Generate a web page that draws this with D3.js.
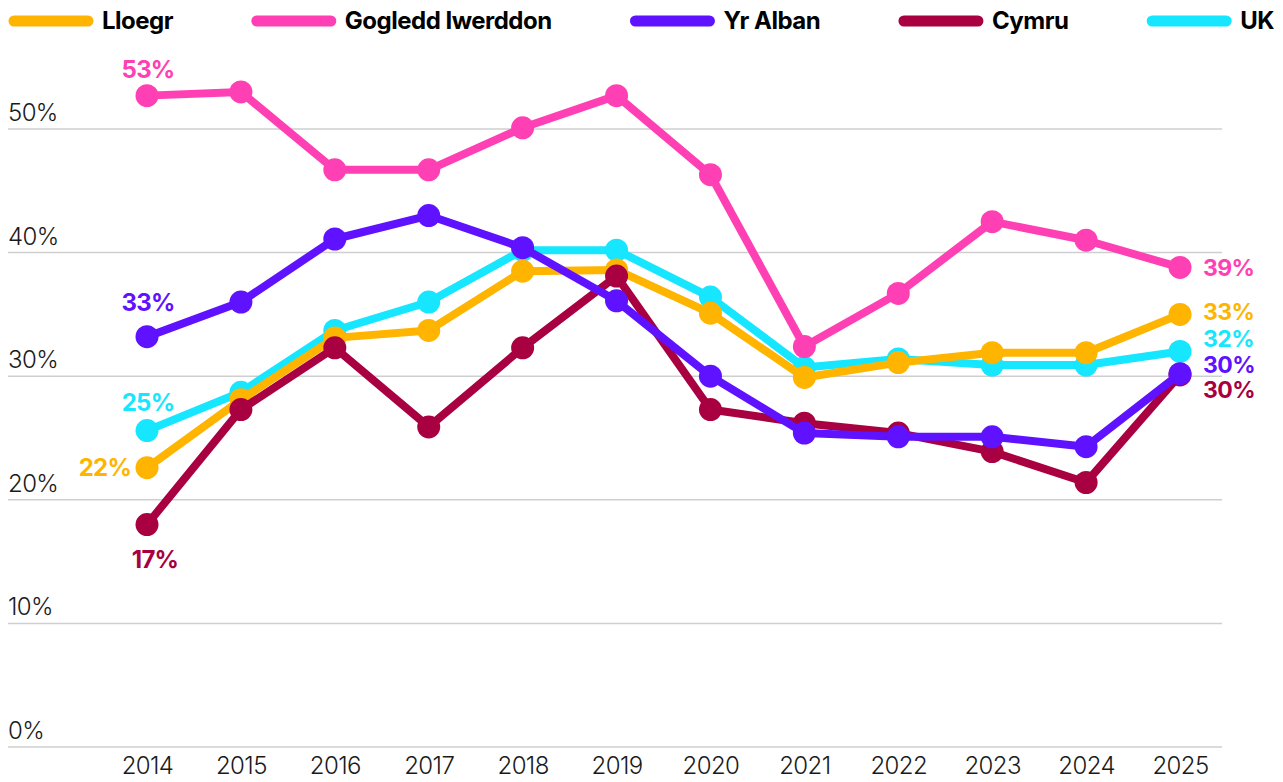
<!DOCTYPE html>
<html>
<head>
<meta charset="utf-8">
<script src="https://cdn.jsdelivr.net/npm/d3@7"></script>
<style>
  body { margin: 0; background: #fff; }
  svg { display: block; font-family: Inter, "Liberation Sans", sans-serif; }
</style>
</head>
<body>
<div id="chart"></div>
<script>
// années et séries (en %)
var years = [2014, 2015, 2016, 2017, 2018, 2019, 2020, 2021, 2022, 2023, 2024, 2025];

var lloegr   = [22.6, 28.1, 33.1, 33.7, 38.5, 38.6, 35.1, 29.9, 31.1, 31.9, 31.9, 35.0];
var gogledd  = [52.7, 53.0, 46.7, 46.7, 50.1, 52.7, 46.3, 32.4, 36.7, 42.5, 41.0, 38.8];
var alban    = [33.2, 36.0, 41.1, 43.0, 40.4, 36.1, 30.0, 25.4, 25.1, 25.1, 24.3, 30.2];
var cymru    = [18.0, 27.3, 32.3, 25.9, 32.3, 38.1, 27.3, 26.2, 25.4, 23.9, 21.4, 30.1];
var uk       = [25.6, 28.7, 33.7, 36.0, 40.2, 40.2, 36.4, 30.7, 31.4, 30.9, 30.9, 32.0];

var seriesNames = ["Lloegr", "Gogledd Iwerddon", "Yr Alban", "Cymru", "UK"];
var startLabels = ["22%", "53%", "33%", "17%", "25%"];
var endLabels   = ["33%", "39%", "30%", "30%", "32%"];
var yTicks = [0, 10, 20, 30, 40, 50];

var colors = ["#ffb400", "#ff40b4", "#5f12ff", "#a80040", "#16e6ff"];
var values = [lloegr, gogledd, alban, cymru, uk];

// placement des étiquettes (début / fin de ligne)
var startPos = [
  {dx: -16, dy: 0, anchor: "end"},
  {dx: 1, dy: -26, anchor: "middle"},
  {dx: 1, dy: -34, anchor: "middle"},
  {dx: 8, dy: 35, anchor: "middle"},
  {dx: 1, dy: -28, anchor: "middle"}
];
var endDy = [-2, 1, -9, 15, -13];

var W = 1283, H = 782;
var svg = d3.select("#chart").append("svg")
    .attr("width", W).attr("height", H);

var x = d3.scalePoint().domain(years).range([147, 1180]);
var y = d3.scaleLinear().domain([0, 50]).range([747, 129]);

// grille horizontale + libellés
var grid = svg.append("g");
yTicks.forEach(function(t){
  grid.append("line")
    .attr("x1", 8).attr("x2", 1222)
    .attr("y1", y(t)).attr("y2", y(t))
    .attr("stroke", "#cfcfcf").attr("stroke-width", 1.5);
  grid.append("text")
    .attr("x", 8).attr("y", y(t) - 8)
    .attr("font-size", 24).attr("font-weight", 300)
    .attr("fill", "#1a1a1a")
    .attr("letter-spacing", -0.6)
    .text(t + "%");
});

// axe des années
var xAxis = svg.append("g")
    .attr("transform", "translate(0," + 747 + ")")
    .call(d3.axisBottom(x).tickSize(0).tickPadding(7).tickFormat(d3.format("d")));
xAxis.select(".domain").remove();
xAxis.selectAll("text")
    .attr("font-size", 24).attr("font-weight", 300)
    .attr("fill", "#1a1a1a").attr("letter-spacing", -0.6)
    .attr("font-family", "Inter, sans-serif")
    .attr("dy", "0.85em");

var line = d3.line()
    .x(function(d, i){ return x(years[i]); })
    .y(function(d){ return y(d); });

// ordre de dessin : UK dessous, puis Lloegr, Cymru, Yr Alban, Gogledd Iwerddon
var order = [4, 0, 3, 2, 1];
order.forEach(function(k){
  var g = svg.append("g");
  g.append("path")
    .datum(values[k])
    .attr("d", line)
    .attr("fill", "none")
    .attr("stroke", colors[k])
    .attr("stroke-width", 8)
    .attr("stroke-linejoin", "round");
  g.selectAll("circle")
    .data(values[k])
    .enter().append("circle")
    .attr("cx", function(d, i){ return x(years[i]); })
    .attr("cy", function(d){ return y(d); })
    .attr("r", 11.5)
    .attr("fill", colors[k]);
});

// étiquettes de début et de fin
values.forEach(function(v, k){
  var sp = startPos[k];
  svg.append("text")
    .attr("x", x(years[0]) + sp.dx)
    .attr("y", y(v[0]) + sp.dy)
    .attr("dy", "0.35em")
    .attr("text-anchor", sp.anchor)
    .attr("font-size", 24).attr("font-weight", 700)
    .attr("letter-spacing", -0.8)
    .attr("fill", colors[k])
    .text(startLabels[k]);
  svg.append("text")
    .attr("x", x(years[years.length - 1]) + 23)
    .attr("y", y(v[v.length - 1]) + endDy[k])
    .attr("dy", "0.35em")
    .attr("font-size", 23).attr("font-weight", 700)
    .attr("letter-spacing", -0.6)
    .attr("fill", colors[k])
    .text(endLabels[k]);
});

// légende : répartie sur toute la largeur
var legend = svg.append("g");
var items = seriesNames.map(function(name, k){
  var it = legend.append("g");
  it.append("line")
    .attr("x1", 0).attr("x2", 74)
    .attr("y1", 0).attr("y2", 0)
    .attr("stroke", colors[k]).attr("stroke-width", 11)
    .attr("stroke-linecap", "round");
  var t = it.append("text")
    .attr("x", 88).attr("dy", "0.35em")
    .attr("font-size", 24).attr("font-weight", 700)
    .attr("letter-spacing", -0.5)
    .attr("fill", "#000")
    .text(name);
  return {g: it, w: 88 + t.node().getComputedTextLength()};
});
var left = 14, right = 1274;
var total = d3.sum(items, function(d){ return d.w; });
var gap = (right - left - total) / (items.length - 1);
var cx = left;
items.forEach(function(d){
  d.g.attr("transform", "translate(" + cx + ",21)");
  cx += d.w + gap;
});
</script>
</body>
</html>
